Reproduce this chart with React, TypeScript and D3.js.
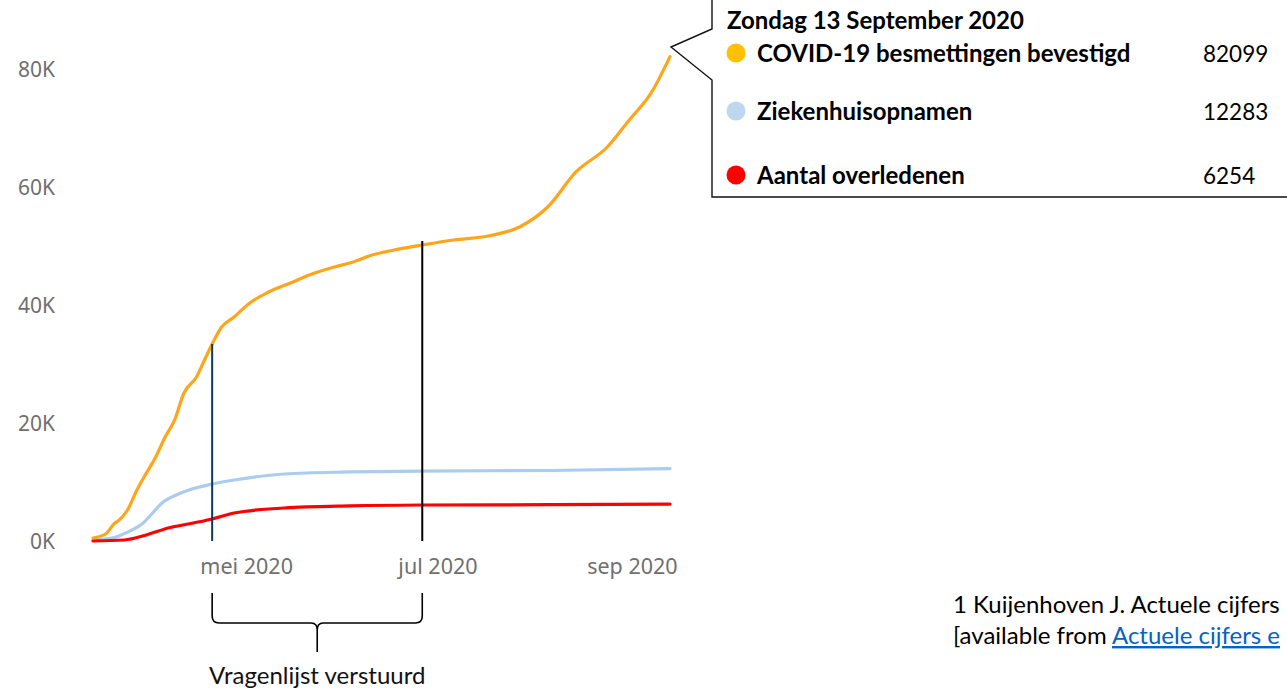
import * as d3 from 'd3';
import React from 'react';

// cumulative counts (Netherlands, 2020)
const caseDates = ['2020-03-13', '2020-03-17', '2020-03-20', '2020-03-21', '2020-03-24', '2020-03-27', '2020-03-30', '2020-04-02', '2020-04-05', '2020-04-08', '2020-04-11', '2020-04-15', '2020-04-18', '2020-04-20', '2020-04-23', '2020-04-27', '2020-05-02', '2020-05-08', '2020-05-15', '2020-05-21', '2020-05-29', '2020-06-04', '2020-06-10', '2020-06-17', '2020-06-26', '2020-07-06', '2020-07-17', '2020-07-27', '2020-08-05', '2020-08-14', '2020-08-24', '2020-08-31', '2020-09-07', '2020-09-13'];
const caseValues = [500, 1190, 3050, 3390, 5250, 8640, 11500, 14240, 17630, 20500, 25090, 27800, 31190, 33390, 36270, 37970, 40340, 42200, 43730, 45090, 46440, 47290, 48480, 49320, 50170, 51020, 51700, 53220, 56610, 62550, 66780, 71360, 75940, 82099];

const hospDates = ['2020-03-13', '2020-03-19', '2020-03-24', '2020-03-29', '2020-04-01', '2020-04-04', '2020-04-10', '2020-04-20', '2020-04-27', '2020-05-13', '2020-06-03', '2020-06-26', '2020-08-06', '2020-09-13'];
const hospValues = [170, 500, 1500, 3050, 4750, 6440, 8140, 9660, 10340, 11360, 11700, 11860, 11950, 12283];

const deathDates = ['2020-03-13', '2020-03-23', '2020-03-30', '2020-04-06', '2020-04-14', '2020-04-20', '2020-04-27', '2020-05-13', '2020-06-03', '2020-06-26', '2020-08-06', '2020-09-13'];
const deathValues = [10, 170, 1020, 2200, 3050, 3730, 4750, 5590, 5950, 6100, 6150, 6254];

const yTicks = [0, 20000, 40000, 60000, 80000];
const xTicks = ['2020-05-01', '2020-07-01', '2020-09-01'];
const monthNames = ['jan', 'feb', 'mrt', 'apr', 'mei', 'jun', 'jul', 'aug', 'sep', 'okt', 'nov', 'dec'];

// questionnaire window
const surveyStart = '2020-04-20';
const surveyEnd = '2020-06-26';

const legendNames = ['COVID-19 besmettingen bevestigd', 'Ziekenhuisopnamen', 'Aantal overledenen'];
const legendValues = ['82099', '12283', '6254'];
const legendColors = ['#FFC000', '#BDD7EE', '#FF0000'];

const W = 1287;
const H = 691;
const parse = d3.timeParse('%Y-%m-%d');
const axisFont = '"Noto Sans", sans-serif';
const docFont = 'Lato, "Open Sans", sans-serif';

export default function App() {
  const x = d3.scaleTime()
    .domain([parse('2020-03-13') as Date, parse('2020-09-13') as Date])
    .range([93, 670]);
  const y = d3.scaleLinear().domain([0, 80000]).range([541, 69]);

  const line = d3.line<[Date, number]>()
    .x(d => x(d[0]))
    .y(d => y(d[1]))
    .curve(d3.curveMonotoneX);

  const toPts = (dates: string[], vals: number[]) =>
    dates.map((d, i) => [parse(d) as Date, vals[i]] as [Date, number]);

  const series = [
    { pts: toPts(hospDates, hospValues), color: '#AACDEF' },
    { pts: toPts(deathDates, deathValues), color: '#FF0000' },
    { pts: toPts(caseDates, caseValues), color: '#FFA51C' },
  ];

  const caseAt = (d: string) => caseValues[caseDates.indexOf(d)];
  const xs = x(parse(surveyStart) as Date);
  const xe = x(parse(surveyEnd) as Date);
  const xm = (xs + xe) / 2;

  const rowY = [53, 111, 175];

  return (
    <svg width={W} height={H} style={{ position: 'absolute', left: 0, top: 0, background: '#fff' }}>
      {/* y axis labels */}
      {yTicks.map(t => (
        <text key={t} x={55} y={y(t) + 8} textAnchor="end" fontFamily={axisFont} fontSize={21} fill="#6f6f6f">
          {d3.format('d')(t / 1000)}K
        </text>
      ))}
      {/* x axis labels */}
      {xTicks.map(t => {
        const d = parse(t) as Date;
        return (
          <text key={t} x={x(d)} y={574} textAnchor="middle" fontFamily={axisFont} fontSize={21.5} fill="#6f6f6f">
            {monthNames[d.getMonth()]} {d.getFullYear()}
          </text>
        );
      })}

      {series.map((s, i) => (
        <path key={i} d={line(s.pts) || ''} fill="none" stroke={s.color} strokeWidth={3.2} strokeLinejoin="round" strokeLinecap="round" />
      ))}

      {/* survey markers */}
      <line x1={xs} x2={xs} y1={y(caseAt(surveyStart))} y2={541} stroke="#0B3A5E" strokeWidth={2} />
      <line x1={xe} x2={xe} y1={y(caseAt(surveyEnd)) - 4} y2={541} stroke="#000" strokeWidth={2} />

      {/* brace */}
      <path
        d={`M${xs},593 L${xs},616 Q${xs},623 ${xs + 7},623 L${xm - 6},623 Q${xm},623 ${xm},630 L${xm},652 M${xm},630 Q${xm},623 ${xm + 6},623 L${xe - 7},623 Q${xe},623 ${xe},616 L${xe},593`}
        fill="none" stroke="#000" strokeWidth={1.6}
      />
      <text x={xm} y={684} textAnchor="middle" fontFamily={docFont} fontSize={24} fill="#111">Vragenlijst verstuurd</text>

      {/* tooltip */}
      <path d="M1300,-2 L712,-2 L712,29 L671,47 L712,80 L712,197 L1300,197" fill="#fff" stroke="#111" strokeWidth={1.4} />
      <text x={727} y={29} fontFamily={docFont} fontWeight="bold" fontSize={24} fill="#000">Zondag 13 September 2020</text>
      {legendNames.map((n, i) => (
        <g key={n}>
          <circle cx={736} cy={rowY[i]} r={9.5} fill={legendColors[i]} />
          <text x={757} y={rowY[i] + 9} fontFamily={docFont} fontWeight="bold" fontSize={24} fill="#000">{n}</text>
          <text x={1203} y={rowY[i] + 9} fontFamily={docFont} fontSize={22.5} fill="#000">{legendValues[i]}</text>
        </g>
      ))}

      {/* footnote */}
      <text x={953} y={613} fontFamily={docFont} fontSize={24} fill="#000">1 Kuijenhoven J. Actuele cijfers</text>
      <text x={953} y={644} fontFamily={docFont} fontSize={24} fill="#000">
        [available from <tspan fill="#0563C1" textDecoration="underline">Actuele cijfers e</tspan>
      </text>
    </svg>
  );
}
